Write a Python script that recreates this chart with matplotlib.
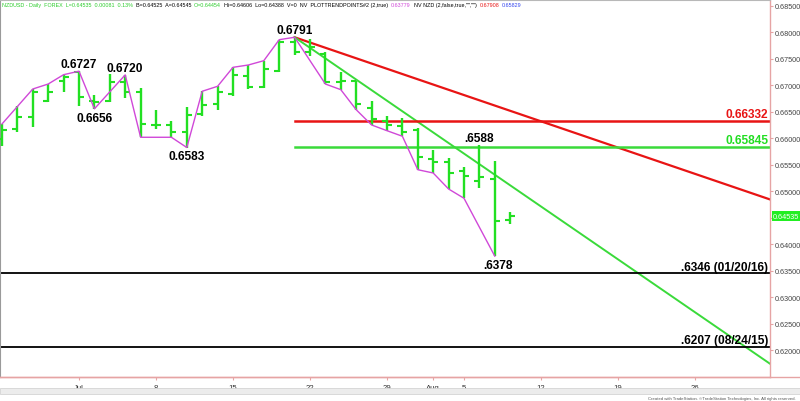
import numpy as np
import pandas as pd
import matplotlib
matplotlib.use('Agg')
import matplotlib.pyplot as plt
from matplotlib.lines import Line2D
from matplotlib.patches import Rectangle
import matplotlib.transforms as mtransforms

plt.rcParams['font.family'] = ['Liberation Sans', 'DejaVu Sans']

# daily bars NZDUSD, 24 Jun - 8 Aug 2019
dates = pd.bdate_range('2019-06-24', '2019-08-08')
opens = [0.65991, 0.66179, 0.66400, 0.66713, 0.67091, 0.67249, 0.66713, 0.66713, 0.67060, 0.66883,
         0.66255, 0.66255, 0.66117, 0.66462, 0.66651, 0.66840, 0.67185, 0.66970, 0.67279, 0.67826,
         0.67630, 0.67594, 0.67060, 0.67080, 0.66570, 0.66336, 0.66242, 0.66166, 0.65613, 0.65551,
         0.65392, 0.65204, 0.65236, 0.64454]
highs = [0.66274, 0.66619, 0.66934, 0.67028, 0.67204, 0.67270, 0.66821, 0.67217, 0.67200, 0.66947,
         0.66538, 0.66336, 0.66589, 0.66891, 0.66985, 0.67343, 0.67387, 0.67468, 0.67864, 0.67910,
         0.67877, 0.67626, 0.67249, 0.67091, 0.66713, 0.66419, 0.66381, 0.66192, 0.65789, 0.65626,
         0.65457, 0.65880, 0.65581, 0.64606]
lows = [0.65853, 0.66128, 0.66211, 0.66683, 0.66872, 0.66619, 0.66560, 0.66683, 0.66758, 0.66023,
        0.66179, 0.66023, 0.65830, 0.66430, 0.66543, 0.66808, 0.66934, 0.66960, 0.67249, 0.67575,
        0.67562, 0.67028, 0.66921, 0.66543, 0.66255, 0.66147, 0.66042, 0.65411, 0.65349, 0.65047,
        0.64872, 0.65066, 0.63780, 0.64388]
closes = [0.66166, 0.66400, 0.66872, 0.66872, 0.67155, 0.66777, 0.66694, 0.67060, 0.66872, 0.66274,
          0.66255, 0.66117, 0.66443, 0.66632, 0.66883, 0.67198, 0.66966, 0.67311, 0.67826, 0.67626,
          0.67720, 0.67060, 0.67091, 0.66651, 0.66368, 0.66255, 0.66128, 0.65651, 0.65551, 0.65349,
          0.65298, 0.65268, 0.64449, 0.64535]

# PLOTTRENDPOINTS swing line
swing_dates = ['2019-06-24', '2019-06-26', '2019-06-27', '2019-06-28', '2019-07-01', '2019-07-02',
               '2019-07-04', '2019-07-05', '2019-07-09', '2019-07-10', '2019-07-11', '2019-07-12',
               '2019-07-15', '2019-07-16', '2019-07-17', '2019-07-18', '2019-07-19', '2019-07-23',
               '2019-07-24', '2019-07-25', '2019-07-26', '2019-07-29', '2019-07-30', '2019-07-31',
               '2019-08-01', '2019-08-02', '2019-08-05', '2019-08-07']
swing_values = [0.66274, 0.66934, 0.67028, 0.67204, 0.67270, 0.66560, 0.67200, 0.66023, 0.66023,
                0.65830, 0.66891, 0.66985, 0.67343, 0.67387, 0.67468, 0.67864, 0.67910, 0.67028,
                0.66921, 0.66543, 0.66255, 0.66147, 0.66042, 0.65411, 0.65349, 0.65047, 0.64872,
                0.63780]

# swing labels
pivot_dates = ['2019-07-01', '2019-07-02', '2019-07-04', '2019-07-10', '2019-07-19', '2019-08-06', '2019-08-07']
pivot_values = [0.6727, 0.6656, 0.6720, 0.6583, 0.6791, 0.6588, 0.6378]
pivot_texts = ['0.6727', '0.6656', '0.6720', '0.6583', '0.6791', '.6588', '.6378']
pivot_above = [True, False, True, False, True, True, False]

# trend lines from the 0.6791 top to the right edge of the chart
trend_start = '2019-07-19'
red_trend = [0.6791, 0.6485]
green_trend = [0.6791, 0.6175]

# retracement levels and old lows
red_level = 0.66332
green_level = 0.65845
old_lows = [0.6346, 0.6207]
old_low_texts = ['.6346 (01/20/16)', '.6207 (08/24/15)']

last_price = 0.64535

tick_dates = ['2019-07-01', '2019-07-08', '2019-07-15', '2019-07-22', '2019-07-29',
              '2019-08-01', '2019-08-05', '2019-08-12', '2019-08-19', '2019-08-26']
tick_labels = ['Jul', '8', '15', '22', '29', 'Aug', '5', '12', '19', '26']

# positions on a trading-day axis
all_days = pd.bdate_range('2019-06-24', '2019-09-06')
pos = {d: i for i, d in enumerate(all_days)}
def xp(d):
    return pos[pd.Timestamp(d)]

bar_green = '#22e022'
line_green = '#3ada3a'
red = '#e81414'
magenta = '#d048d8'
pink = '#e6a4a4'

fig = plt.figure(figsize=(8, 4.02), dpi=100)
ax = fig.add_axes([0.0, 24 / 402, 770 / 800, 377 / 402])

x = np.array([xp(d) for d in dates])
ax.vlines(x, lows, highs, color=bar_green, lw=1.7, zorder=3)
ax.hlines(opens, x - 0.32, x, color=bar_green, lw=1.5, zorder=3)
ax.hlines(closes, x, x + 0.32, color=bar_green, lw=1.5, zorder=3)

ax.plot([xp(d) for d in swing_dates], swing_values, color=magenta, lw=1.0, zorder=4)

x0 = xp('2019-07-01') - 79 / 15.4
x1 = xp('2019-07-01') + (770 - 79) / 15.4
ax.set_xlim(x0, x1)
ax.set_ylim(0.615, 0.68613)

xs = xp(trend_start)
ax.plot([xs, x1], red_trend, color=red, lw=1.6, zorder=2)
ax.plot([xs, x1], green_trend, color=line_green, lw=1.4, zorder=2)
ax.plot([xs, x1], [red_level, red_level], color=red, lw=1.8, zorder=2)
ax.plot([xs, x1], [green_level, green_level], color=line_green, lw=1.8, zorder=2)
for v in old_lows:
    ax.axhline(v, color='black', lw=1.3, zorder=2)

big = dict(fontsize=8.6, fontweight='bold')
for d, v, t, up in zip(pivot_dates, pivot_values, pivot_texts, pivot_above):
    dx = 2 if t == '.6378' else 0
    if up:
        ax.annotate(t, (xp(d), v), xytext=(dx, 3), textcoords='offset points',
                    ha='center', va='baseline', color='black', **big)
    else:
        ax.annotate(t, (xp(d), v), xytext=(dx, -2), textcoords='offset points',
                    ha='center', va='top', color='black', **big)

trans = mtransforms.blended_transform_factory(ax.transAxes, ax.transData)
for v, t, c in [(red_level, f'{red_level:.5f}', red), (green_level, f'{green_level:.5f}', '#22dd22')] + \
        [(v, t, 'black') for v, t in zip(old_lows, old_low_texts)]:
    ax.annotate(t, (0.9975, v), xycoords=trans, xytext=(0, 2.6), textcoords='offset points',
                ha='right', va='baseline', color=c, **big)

# axes look
ax.yaxis.tick_right()
yt = np.arange(0.620, 0.6851, 0.005)
ax.set_yticks(yt)
# the 0.64500 label sits under the last-price marker
ax.set_yticklabels(['' if abs(v - 0.645) < 1e-6 else f'{v:.5f}' for v in yt])
ax.tick_params(axis='y', length=2.5, width=0.8, color=pink, labelsize=5.2,
               labelcolor='#444444', pad=1)
ax.set_xticks([xp(d) for d in tick_dates])
ax.set_xticklabels(tick_labels)
ax.tick_params(axis='x', length=2.5, width=0.8, color=pink, labelsize=5.6,
               labelcolor='#333333', pad=2.5)
for s in ['right', 'bottom']:
    ax.spines[s].set_color(pink)
    ax.spines[s].set_linewidth(1.0)
ax.spines['left'].set_color('#9a9a9a')
ax.spines['top'].set_color('#b8b8b8')
ax.spines['top'].set_linewidth(0.8)

# last price marker on the axis
ax.text(1.004, last_price, f'{last_price:.5f}', transform=trans, ha='left', va='center',
        fontsize=5.2, color='white', clip_on=False, zorder=6,
        bbox=dict(boxstyle='square,pad=0.18', fc='#22ee22', ec='none'))

# pink baseline across the whole width
fig.add_artist(Line2D([0, 1], [24 / 402, 24 / 402], color=pink, lw=1.0))

# header line
header = [
    ('NZDUSD - Daily  FOREX  L=0.64535  0.00081  0.13%', '#2ccc2c'),
    ('B=0.64525  A=0.64545', 'black'),
    ('O=0.64454', '#2ccc2c'),
    ('Hi=0.64606  Lo=0.64388  V=0  NV  PLOTTRENDPOINTS#2 (2,true)', 'black'),
    ('0.63779', magenta),
    ('NV NZD (2,false,true,"","")', 'black'),
    ('0.67908', red),
    ('0.65829', '#3344ee'),
]
renderer = fig.canvas.get_renderer()
hx = 1.5 / 800
for txt, col in header:
    t = fig.text(hx, 1 - 5.5 / 402, txt, fontsize=3.9, color=col, ha='left', va='center')
    bb = t.get_window_extent(renderer)
    hx = bb.x1 / 800 + 3 / 800

# scroll bar strip and credit line
fig.add_artist(Rectangle((0.0, 7 / 402), 1.0, 6 / 402, transform=fig.transFigure,
                         fc='#ececec', ec='#d4d4d4', lw=0.6))
fig.text(0.994, 3 / 402, 'Created with TradeStation. \u00a9TradeStation Technologies, Inc. All rights reserved.',
         fontsize=3.1, color='#555555', ha='right', va='center')

fig.savefig('out.png', dpi=100)
